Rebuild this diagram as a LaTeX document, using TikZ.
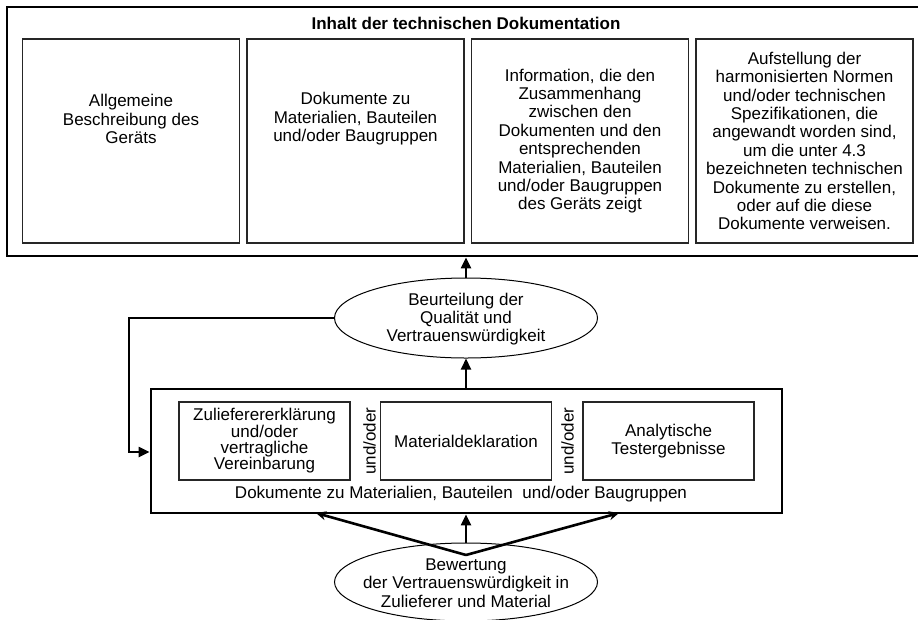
\documentclass[tikz,border=0pt]{standalone}
\usepackage{fontspec}
\setmainfont{Liberation Sans}
\usetikzlibrary{arrows.meta,shapes.geometric}
\begin{document}
\begin{tikzpicture}[x=1pt,y=-1pt,
  font=\fontsize{17}{18.4}\selectfont,
  outerbox/.style={draw,line width=2.8pt,inner sep=0pt},
  topbox/.style={draw=black!85,line width=1.2pt,minimum width=217pt,minimum height=204pt,inner sep=0pt},
  midbox/.style={draw=black!85,line width=1.2pt,minimum width=171pt,minimum height=78pt,inner sep=0pt},
  ell/.style={draw,ellipse,line width=1pt,minimum width=263pt,minimum height=80pt,inner sep=0pt},
  txt/.style={align=center,inner sep=0pt},
  arr/.style={line width=2.2pt,-{Triangle[length=11pt,width=10pt]}},
  varr/.style={line width=2.6pt,-{Stealth[length=10pt,width=9pt]}}
]
\useasboundingbox (0,0) rectangle (918,619);

% top container (its right edge lies just past the picture's edge)
\node[outerbox,minimum width=918pt,minimum height=249pt] (top) at (466,131.5) {};
\node[txt,font=\fontsize{17}{18}\selectfont\bfseries] (title) at (466,23) {Inhalt der technischen Dokumentation};
\node[topbox] (t1) at (131,141) {};
\node[topbox] (t2) at (355.5,141) {};
\node[topbox] (t3) at (580,141) {};
\node[topbox] (t4) at (804.5,141) {};
\node[txt] (t1t) at (131,119) {Allgemeine\\Beschreibung des\\Geräts};
\node[txt] (t2t) at (355.5,119) {Dokumente zu\\Materialien, Bauteilen\\und/oder Baugruppen};
\node[txt] (t3t) at (t3) {Information, die den\\Zusammenhang\\zwischen den\\Dokumenten und den\\entsprechenden\\Materialien, Bauteilen\\und/oder Baugruppen\\des Geräts zeigt};
\node[txt] (t4t) at (t4) {Aufstellung der\\harmonisierten Normen\\und/oder technischen\\Spezifikationen, die\\angewandt worden sind,\\um die unter 4.3\\bezeichneten technischen\\Dokumente zu erstellen,\\oder auf die diese\\Dokumente verweisen.};

% assessment ellipse
\node[ell] (e1) at (466,318) {};
\node[txt] (e1t) at (466,319) {Beurteilung der\\Qualität und\\Vertrauenswürdigkeit};

% middle container
\node[outerbox,minimum width=631pt,minimum height=124pt] (mid) at (466.5,451) {};
\node[midbox] (m1) at (264.5,441) {};
\node[midbox] (m2) at (466,441) {};
\node[midbox] (m3) at (668.5,441) {};
\node[txt,font=\fontsize{17}{15.2}\selectfont] (m1t) at (m1) {Zulieferererklärung\\und/oder\\vertragliche\\Vereinbarung};
\node[txt] (m2t) at (m2) {Materialdeklaration};
\node[txt] (m3t) at (m3) {Analytische\\Testergebnisse};
\node[txt,rotate=90] (u1) at (369.5,441) {und/oder};
\node[txt,rotate=90] (u2) at (567.5,441) {und/oder};
\node[txt] (mlabel) at (461,494) {Dokumente zu Materialien, Bauteilen\hspace{5pt} und/oder Baugruppen};

% evaluation ellipse
\node[ell,minimum height=78pt] (e2) at (466,582) {};
\node[txt] (e2t) at (466,583) {Bewertung\\der Vertrauenswürdigkeit in\\Zulieferer und Material};

% connectors
\draw[arr] (e1.north) -- (top.south -| e1.north);
\draw[arr] (mid.north -| e1.south) -- (e1.south);
\coordinate (fb) at (129,318);
\draw[arr] (e1.west) -- (fb) |- (mid.west |- 0,452);
\coordinate (apex) at (466,555);
\coordinate (vl) at (316,513);
\coordinate (vr) at (619,513);
\draw[arr] (e2.north) -- (mid.south -| e2.north);
\draw[varr] (apex) -- (vl);
\draw[varr] (apex) -- (vr);
\end{tikzpicture}
\end{document}
